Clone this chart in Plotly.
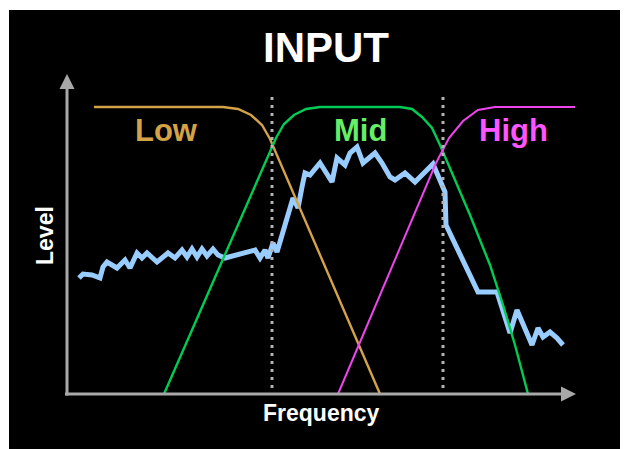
import plotly.graph_objects as go

# Frequency / level data (arbitrary units; origin at the axes corner)
input_freq = [12, 16, 25, 33, 36, 40, 50, 58, 63, 70, 75, 80, 90, 101, 108, 115, 120, 125, 130, 135,
              140, 146, 151, 158, 188, 193, 198, 201, 206, 210, 226, 231, 235, 238, 243, 253, 265, 270,
              278, 283, 290, 296, 308, 315, 323, 328, 338, 348, 366, 378, 379, 411, 430, 443, 450, 465,
              471, 476, 483, 490, 496]
input_level = [116, 120, 119, 116, 127, 132, 126, 134, 126, 141, 136, 141, 132, 141, 136, 144, 137, 145, 137, 145,
               138, 145, 139, 136, 144, 136, 144, 136, 151, 142, 196, 186, 207, 221, 219, 231, 212, 236,
               229, 241, 247, 231, 241, 231, 217, 214, 221, 212, 230, 202, 169, 102, 102, 61, 84, 49,
               66, 57, 62, 56, 49]

low_freq = [27, 156, 171, 184, 195, 203, 313]
low_level = [287, 287, 285, 279, 269, 255, 0]

mid_freq = [97, 209, 217, 227, 239, 253, 333, 345, 355, 365, 373, 403, 423, 436, 448, 461]
mid_level = [0, 256, 270, 279, 285, 287, 287, 285, 277, 266, 249, 179, 129, 89, 49, 0]

high_freq = [271, 369, 382, 396, 411, 428, 508]
high_level = [0, 231, 256, 273, 284, 287, 287]

crossovers = [205, 376]
band_labels = ["Low", "Mid", "High"]
band_label_freq = [99, 293, 446]

FONT = "Liberation Sans, Arial, sans-serif"
C_LOW, C_MID, C_HIGH, C_IN = "#D4A247", "#00CC55", "#EE44EE", "#99CCFF"
C_LOW_T, C_MID_T, C_HIGH_T = "#D4A247", "#66EE66", "#FF55FF"
AX = "#A8A8A8"

fig = go.Figure()
fig.add_trace(go.Scatter(x=input_freq, y=input_level, mode="lines",
                         line=dict(color=C_IN, width=5), hoverinfo="skip"))
fig.add_trace(go.Scatter(x=low_freq, y=low_level, mode="lines",
                         line=dict(color=C_LOW, width=2.4), hoverinfo="skip"))
fig.add_trace(go.Scatter(x=mid_freq, y=mid_level, mode="lines",
                         line=dict(color=C_MID, width=2.4), hoverinfo="skip"))
fig.add_trace(go.Scatter(x=high_freq, y=high_level, mode="lines",
                         line=dict(color=C_HIGH, width=2), hoverinfo="skip"))

shapes = []
for cx in crossovers:
    shapes.append(dict(type="line", x0=cx, x1=cx, y0=6, y1=297, xref="x", yref="y",
                       line=dict(color="#B4B4B4", width=3, dash="3px,5px"), layer="above"))
# axes with arrowheads
shapes.append(dict(type="line", x0=0, x1=0, y0=-1.5, y1=306, line=dict(color=AX, width=3)))
shapes.append(dict(type="line", x0=-2, x1=495, y0=0, y1=0, line=dict(color=AX, width=3)))
shapes.append(dict(type="path", path="M -7.5,305 L 0,320 L 7.5,305 Z", fillcolor=AX, line=dict(width=0)))
shapes.append(dict(type="path", path="M 494,7.5 L 509,0 L 494,-7.5 Z", fillcolor=AX, line=dict(width=0)))

annotations = [
    dict(x=259, y=347, text="<b>INPUT</b>", showarrow=False, font=dict(family=FONT, size=42, color="white")),
    dict(x=-22, y=158, text="<b>Level</b>", showarrow=False, textangle=-90,
         font=dict(family=FONT, size=23, color="white")),
    dict(x=254, y=-19, text="<b>Frequency</b>", showarrow=False, font=dict(family=FONT, size=23, color="white")),
]
for lab, fx, col in zip(band_labels, band_label_freq, [C_LOW_T, C_MID_T, C_HIGH_T]):
    annotations.append(dict(x=fx, y=264, text=f"<b>{lab}</b>", showarrow=False,
                            font=dict(family=FONT, size=31, color=col)))

fig.update_layout(
    width=628, height=449,
    margin=dict(l=1, t=2, r=0, b=0, pad=0),
    paper_bgcolor="white", plot_bgcolor="black",
    showlegend=False,
    xaxis=dict(range=[-58, 569], visible=False, fixedrange=True),
    yaxis=dict(range=[-63, 384], visible=False, fixedrange=True),
    shapes=shapes, annotations=annotations,
)
fig.write_html("out.html", config={"displayModeBar": False})
